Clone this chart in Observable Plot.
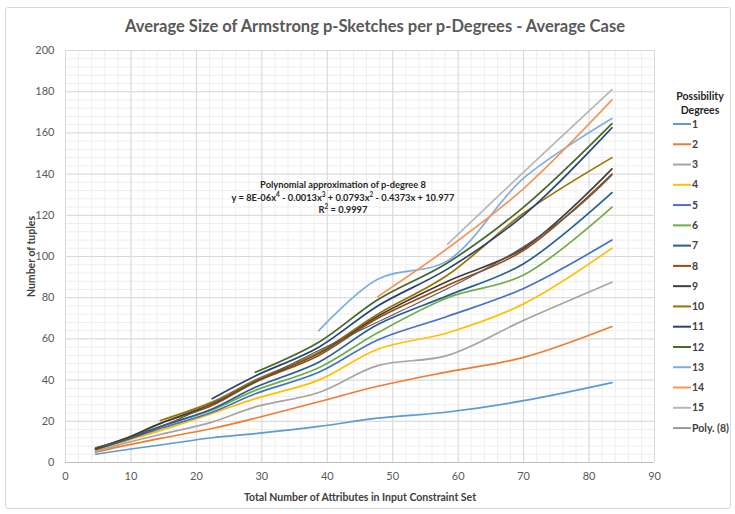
<!DOCTYPE html>
<html><head><meta charset="utf-8">
<script src="https://cdn.jsdelivr.net/npm/d3@7"></script>
<script src="https://cdn.jsdelivr.net/npm/@observablehq/plot@0.6"></script>
<style>
body{margin:0;background:#fff;font-family:Lato,"Open Sans",sans-serif;}
#fig{position:relative;width:735px;height:514px;overflow:hidden;background:#fff;}
#frame{position:absolute;left:5px;top:7px;width:726px;height:502px;border:1px solid #d9d9d9;border-radius:3px;box-sizing:border-box;}
#title{position:absolute;left:0;top:16px;width:750px;text-align:center;font-size:16.5px;font-weight:bold;color:#595959;white-space:nowrap;}
#chart{position:absolute;left:0;top:40px;}
#note{position:absolute;left:213px;top:179px;width:260px;text-align:center;font-size:9.3px;font-weight:bold;color:#262626;line-height:12.5px;white-space:nowrap;}
#note sup{font-size:6.5px;line-height:0;vertical-align:4px;}
#legend{position:absolute;left:660px;top:86px;}
</style></head>
<body>
<div id="fig">
  <div id="frame"></div>
  <div id="title">Average Size of Armstrong p-Sketches per p-Degrees - Average Case</div>
  <div id="chart"></div>
  <div id="note">Polynomial approximation of p-degree 8<br>y = 8E-06x<sup>4</sup> - 0.0013x<sup>3</sup> + 0.0793x<sup>2</sup> - 0.4373x + 10.977<br>R<sup>2</sup> = 0.9997</div>
  <div id="legend"></div>
</div>
<script>
// x positions of the measurement points (number of attributes)
const xs = [4.6, 9.2, 14.5, 22.4, 29, 38.7, 47.7, 58.4, 70, 83.5];
const degrees = ["1","2","3","4","5","6","7","8","9","10","11","12","13","14","15"];
// series values (a series with fewer values starts at a later x point)
const s1  = [4, 6.2, 8.5, 12, 14, 17.5, 21.5, 24.5, 30, 38.8];
const s2  = [5, 8.3, 11.7, 16.5, 21.5, 29.5, 37, 44, 51, 66];
const s3  = [5.5, 9.5, 13.6, 19.6, 27, 34, 47, 52, 69, 87.5];
const s4  = [6, 10.5, 15.5, 23.8, 31, 40, 55, 63, 77, 104];
const s5  = [6.2, 10.8, 16.5, 24.4, 33.4, 43.8, 59.5, 71, 84.5, 108];
const s6  = [7, 11.5, 17.5, 25.5, 35, 46, 63, 80, 91, 124];
const s7  = [6.5, 11.2, 17.5, 26, 36.5, 48.7, 67, 81, 96.5, 131];
const s8  = [6.5, 11.5, 18.9, 27.7, 39, 52, 70, 86, 103, 140];
const s9  = [6.8, 11.7, 19, 28.5, 39.5, 53, 71, 88, 104, 142.5];
const s10 = [20.4, 29.3, 40, 53.5, 72, 91, 121, 148];
const s11 = [31, 42, 56, 76, 94, 120, 162.5];
const s12 = [43.8, 58.4, 79, 97, 124, 164.5];
const s13 = [64, 89, 98, 138, 167];
const s14 = [80.5, 104, 133, 176];
const s15 = [106, 141, 181];
const seriesValues = [s1,s2,s3,s4,s5,s6,s7,s8,s9,s10,s11,s12,s13,s14,s15];
const colors = ["#5B9BD5","#ED7D31","#A5A5A5","#FFC000","#4472C4","#70AD47","#255E91","#9E480E","#3f3f3f","#997300","#264478","#43682B","#7CAFDD","#F1975A","#B7B7B7"];
const xTicks = [0,10,20,30,40,50,60,70,80,90];
const yTicks = [0,20,40,60,80,100,120,140,160,180,200];
const trendLabel = "Poly. (8)";
const trendColor = "#595959";

const rows = [];
seriesValues.forEach((vals, i) => {
  const off = xs.length - vals.length;
  vals.forEach((v, j) => rows.push({degree: degrees[i], x: xs[off + j], y: v}));
});

// degree-4 least-squares trendline fitted to series 8 (as the spreadsheet does)
function polyfit(px, py, deg) {
  const n = deg + 1, A = [], b = [];
  for (let r = 0; r < n; r++) {
    A.push([]); b.push(0);
    for (let c = 0; c < n; c++) A[r].push(d3.sum(px, x => Math.pow(x, r + c)));
    b[r] = d3.sum(px, (x, k) => Math.pow(x, r) * py[k]);
  }
  for (let i = 0; i < n; i++) {
    let m = i; for (let k = i + 1; k < n; k++) if (Math.abs(A[k][i]) > Math.abs(A[m][i])) m = k;
    [A[i], A[m]] = [A[m], A[i]]; [b[i], b[m]] = [b[m], b[i]];
    for (let k = i + 1; k < n; k++) { const f = A[k][i] / A[i][i]; for (let c = i; c < n; c++) A[k][c] -= f * A[i][c]; b[k] -= f * b[i]; }
  }
  const co = new Array(n).fill(0);
  for (let i = n - 1; i >= 0; i--) { let s = b[i]; for (let c = i + 1; c < n; c++) s -= A[i][c] * co[c]; co[i] = s / A[i][i]; }
  return co;
}
const sx = xs.map(x => x / 100);
const coef = polyfit(sx, s8, 4);
const trend = d3.range(0, 101).map(i => {
  const x = xs[0] + (xs[xs.length-1] - xs[0]) * i / 100;
  const t = x / 100;
  return {x, y: coef.reduce((acc, c, k) => acc + c * Math.pow(t, k), 0)};
});

const chart = Plot.plot({
  width: 735, height: 470,
  marginLeft: 65, marginRight: 81, marginTop: 10, marginBottom: 48,
  x: {domain: [0, 90]},
  y: {domain: [0, 200]},
  color: {domain: degrees, range: colors},
  style: {fontFamily: "Lato, 'Open Sans', sans-serif", fontSize: "11px", color: "#595959", background: "transparent"},
  marks: [
    Plot.gridX(d3.range(0, 91, 2), {stroke: "#eeeeee", strokeOpacity: 1}),
    Plot.gridY(d3.range(0, 201, 4), {stroke: "#eeeeee", strokeOpacity: 1}),
    Plot.gridX(xTicks, {stroke: "#d9d9d9", strokeOpacity: 1}),
    Plot.gridY(yTicks, {stroke: "#d9d9d9", strokeOpacity: 1}),
    Plot.ruleY([0], {stroke: "#bfbfbf"}),
    Plot.axisX(xTicks, {tickSize: 0, tickPadding: 10, label: "Total Number of Attributes in Input Constraint Set", labelAnchor: "center", labelArrow: "none", labelOffset: 38}),
    Plot.axisY(yTicks, {tickSize: 0, tickPadding: 11, label: "Number of tuples", labelAnchor: "center", labelArrow: "none", labelOffset: 38}),
    Plot.line(rows, {x: "x", y: "y", z: "degree", stroke: "degree", strokeWidth: 1.7, curve: "catmull-rom"}),
    Plot.line(trend, {x: "x", y: "y", stroke: trendColor, strokeWidth: 1.1})
  ]
});
document.getElementById("chart").append(chart);
d3.select(chart).selectAll('[aria-label="x-axis label"] text, [aria-label="y-axis label"] text')
  .style("font-weight", "bold").style("fill", "#404040").style("font-size", "10.5px");

// legend
const items = degrees.map((d, i) => ({label: d, color: colors[i], w: 2}));
items.push({label: trendLabel, color: trendColor, w: 1.2});
const lg = d3.select("#legend").append("svg").attr("width", 75).attr("height", 360)
  .style("font-family", "Lato, 'Open Sans', sans-serif");
lg.append("text").attr("x", 40).attr("y", 14).attr("text-anchor", "middle")
  .style("font-size", "10.5px").style("font-weight", "bold").style("fill", "#262626").text("Possibility");
lg.append("text").attr("x", 40).attr("y", 28).attr("text-anchor", "middle")
  .style("font-size", "10.5px").style("font-weight", "bold").style("fill", "#262626").text("Degrees");
const it = lg.selectAll("g.item").data(items).join("g").attr("class", "item")
  .attr("transform", (d, i) => `translate(0,${38 + i * 20.27})`);
it.append("line").attr("x1", 13).attr("x2", 31).attr("stroke", d => d.color).attr("stroke-width", d => d.w);
it.append("text").attr("x", 32).attr("dy", "0.35em").style("font-size", "10.5px").style("font-weight", "bold")
  .style("fill", "#404040").text(d => d.label);
</script>
</body></html>
